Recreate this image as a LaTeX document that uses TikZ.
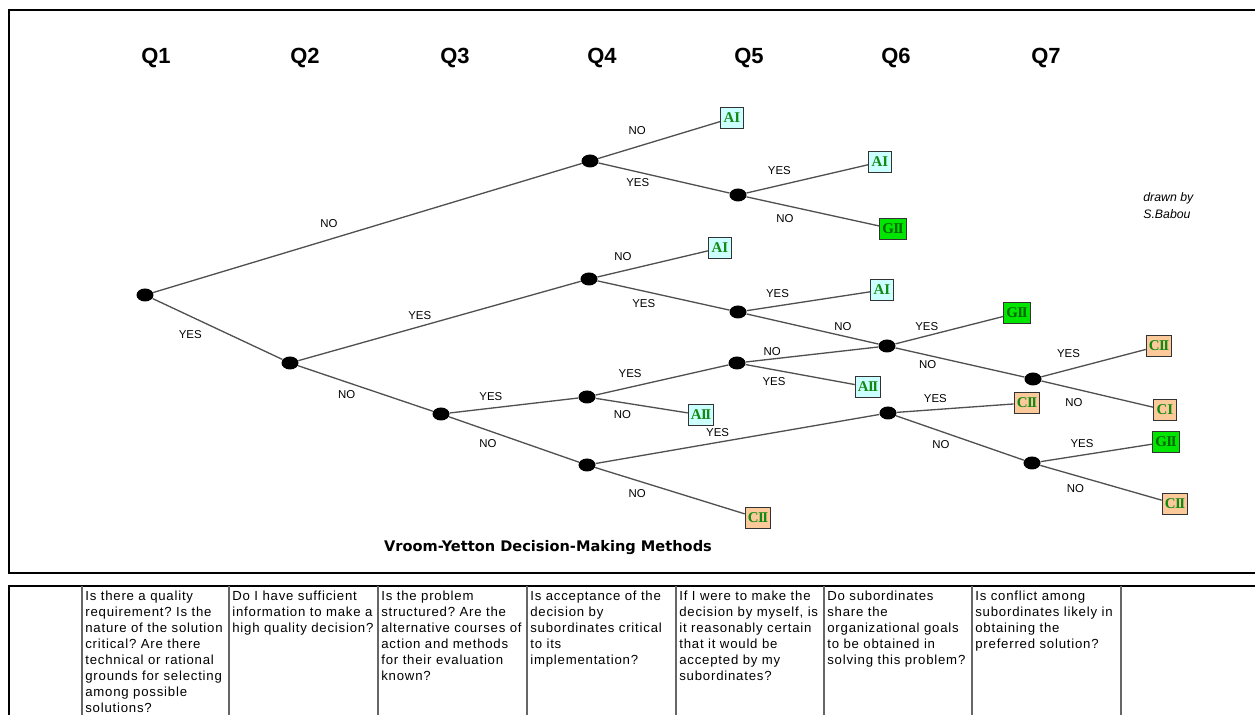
\documentclass[tikz,border=0pt]{standalone}
\usepackage{fontspec}
\setmainfont{Liberation Sans}
\newfontfamily\boxfont{Liberation Serif}
\newfontfamily\titlefont{DejaVu Sans}
\newfontfamily\cellfont[LetterSpace=6]{Liberation Sans}
\usepackage{tikz}
\usetikzlibrary{shapes.geometric}
\definecolor{aiblue}{HTML}{CCFFFF}
\definecolor{gigreen}{HTML}{00E600}
\definecolor{ciorange}{HTML}{FCC99B}
\definecolor{methodtxt}{HTML}{138A13}
\definecolor{branchgray}{HTML}{505050}
\frenchspacing

\begin{document}
\begin{tikzpicture}[x=0.02cm, y=-0.02cm,
  dot/.style={ellipse, fill=black, minimum width=0.34cm, minimum height=0.26cm, inner sep=0pt},
  method/.style={rectangle, draw=black!80, line width=0.5pt,
                 minimum width=0.46cm, minimum height=0.42cm,
                 inner xsep=1.5pt, inner ysep=0pt,
                 font=\boxfont\bfseries\fontsize{8.5}{9}\selectfont, text=methodtxt},
  mA/.style={method, fill=aiblue},
  mG/.style={method, fill=gigreen, text=green!40!black},
  mC/.style={method, fill=ciorange},
  branch/.style={draw=branchgray, line width=0.75pt},
  lab/.style={font=\fontsize{6.5}{7}\selectfont, inner sep=0pt},
  qlab/.style={font=\fontsize{12.5}{14}\selectfont\bfseries},
  cell/.style={anchor=north west, align=left, inner sep=0pt,
               font=\cellfont\fontsize{7.5}{9.1}\selectfont},
  frame/.style={line width=1.4pt},
  colline/.style={draw=black!60, line width=1pt}
]
\useasboundingbox (0,0) rectangle (1255,715);

% Question headers
\node[qlab] (q1) at (156,58) {Q1};
\node[qlab] (q2) at (305,58) {Q2};
\node[qlab] (q3) at (455,58) {Q3};
\node[qlab] (q4) at (602,58) {Q4};
\node[qlab] (q5) at (749,58) {Q5};
\node[qlab] (q6) at (896,58) {Q6};
\node[qlab] (q7) at (1046,58) {Q7};

% Decision points
\node[dot] (a) at (145,295) {};
\node[dot] (b) at (290,363) {};
\node[dot] (c) at (590,161) {};
\node[dot] (d) at (738,195) {};
\node[dot] (e) at (589,279) {};
\node[dot] (f) at (738,312) {};
\node[dot] (g) at (887,346) {};
\node[dot] (h) at (1033,379) {};
\node[dot] (i) at (441,414) {};
\node[dot] (j) at (587,397) {};
\node[dot] (k) at (737,363) {};
\node[dot] (l) at (587,465) {};
\node[dot] (m) at (888,413) {};
\node[dot] (n) at (1032,463) {};

% Methods
\node[mA] (r1)  at (732,118)  {AI};
\node[mA] (r2)  at (880,162)  {AI};
\node[mG] (r3)  at (893,229)  {G\kern-.3pt I\kern-.8pt I};
\node[mA] (r4)  at (720,248)  {AI};
\node[mA] (r5)  at (882,290)  {AI};
\node[mG] (r6)  at (1017,313) {G\kern-.3pt I\kern-.8pt I};
\node[mC] (r7)  at (1159,346) {C\kern-.3pt I\kern-.8pt I};
\node[mC] (r8)  at (1165,410) {CI};
\node[mA] (r9)  at (701,415)  {A\kern-.3pt I\kern-.8pt I};
\node[mA] (r10) at (868,387)  {A\kern-.3pt I\kern-.8pt I};
\node[mC] (r11) at (758,518)  {C\kern-.3pt I\kern-.8pt I};
\node[mC] (r12) at (1027,403) {C\kern-.3pt I\kern-.8pt I};
\node[mG] (r13) at (1166,442) {G\kern-.3pt I\kern-.8pt I};
\node[mC] (r14) at (1175,504) {C\kern-.3pt I\kern-.8pt I};

% Branches
\draw[branch] (a) -- node[lab, pos=.41, above=6.4pt] {NO} (c);
\draw[branch] (a) -- node[lab, pos=.29, below=8pt] {YES} (b);
\draw[branch] (b) -- node[lab, pos=.43, above=3.5pt] {YES} (e);
\draw[branch] (b) -- node[lab, pos=.36, below=4.6pt] {NO} (i);
\draw[branch] (c) -- node[lab, pos=.32, above=6.4pt] {NO} (r1);
\draw[branch] (c) -- node[lab, pos=.30, below=3.5pt] {YES} (d);
\draw[branch] (d) -- node[lab, pos=.27, above=5.5pt] {YES} (r2);
\draw[branch] (d) -- node[lab, pos=.29, below=4.6pt] {NO} (r3);
\draw[branch] (e) -- node[lab, pos=.23, above=5.8pt] {NO} (r4);
\draw[branch] (e) -- node[lab, pos=.35, below=4.6pt] {YES} (f);
\draw[branch] (f) -- node[lab, pos=.25, above=4.1pt] {YES} (r5);
\draw[branch] (f) -- node[lab, pos=.73, above=2.9pt] {NO} (g);
\draw[branch] (g) -- node[lab, pos=.29, above=2.9pt] {YES} (r6);
\draw[branch] (g) -- node[lab, pos=.25, below=2.9pt] {NO} (h);
\draw[branch] (h) -- node[lab, pos=.26, above=6.4pt] {YES} (r7);
\draw[branch] (h) -- node[lab, pos=.29, below=5.5pt] {NO} (r8);
\draw[branch] (i) -- node[lab, pos=.32, above=4.1pt] {YES} (j);
\draw[branch] (i) -- node[lab, pos=.30, below=4.6pt] {NO} (l);
\draw[branch] (j) -- node[lab, pos=.26, above=5.2pt] {YES} (k);
\draw[branch] (j) -- node[lab, pos=.29, below=4.4pt] {NO} (r9);
\draw[branch] (k) -- node[lab, pos=.20, above=1.8pt] {NO} (g);
\draw[branch] (k) -- node[lab, pos=.26, below=3.8pt] {YES} (r10);
\draw[branch] (l) -- node[lab, pos=.43, above=3.2pt] {YES} (m);
\draw[branch] (l) -- node[lab, pos=.28, below=4.9pt] {NO} (r11);
\draw[branch] (m) -- node[lab, pos=.33, above=3.8pt] {YES} (r12);
\draw[branch] (m) -- node[lab, pos=.35, below=4.9pt] {NO} (n);
\draw[branch] (n) -- node[lab, pos=.37, above=4.1pt] {YES} (r13);
\draw[branch] (n) -- node[lab, pos=.29, below=5pt] {NO} (r14);

% Credit and title
\node[anchor=west, align=left, inner sep=0pt, font=\itshape\fontsize{7}{9.6}\selectfont]
  (credit) at (1143,206) {drawn by\\S.Babou};
\node[font=\titlefont\bfseries\fontsize{8.3}{9}\selectfont] (title) at (548,548)
  {Vroom-Yetton Decision-Making Methods};

% Frame round the tree
\draw[frame] (1262,10) -- (9,10) -- (9,573) -- (1262,573);

% Question table
\draw[frame] (1262,586) -- (9,586) -- (9,720);
\foreach \cx in {82,229,378,527,676,824,972,1121}
  \draw[colline] (\cx,586) -- (\cx,720);

\node[cell] (t1) at (85,591) {Is there a quality\\requirement? Is the\\nature of the solution\\critical? Are there\\technical or rational\\grounds for selecting\\among possible\\solutions?};
\node[cell] (t2) at (232,591) {Do I have sufficient\\information to make a\\high quality decision?};
\node[cell] (t3) at (381,591) {Is the problem\\structured? Are the\\alternative courses of\\action and methods\\for their evaluation\\known?};
\node[cell] (t4) at (530,591) {Is acceptance of the\\decision by\\subordinates critical\\to its\\implementation?};
\node[cell] (t5) at (679,591) {If I were to make the\\decision by myself, is\\it reasonably certain\\that it would be\\accepted by my\\subordinates?};
\node[cell] (t6) at (827,591) {Do subordinates\\share the\\organizational goals\\to be obtained in\\solving this problem?};
\node[cell] (t7) at (975,591) {Is conflict among\\subordinates likely in\\obtaining the\\preferred solution?};

\end{tikzpicture}
\end{document}
